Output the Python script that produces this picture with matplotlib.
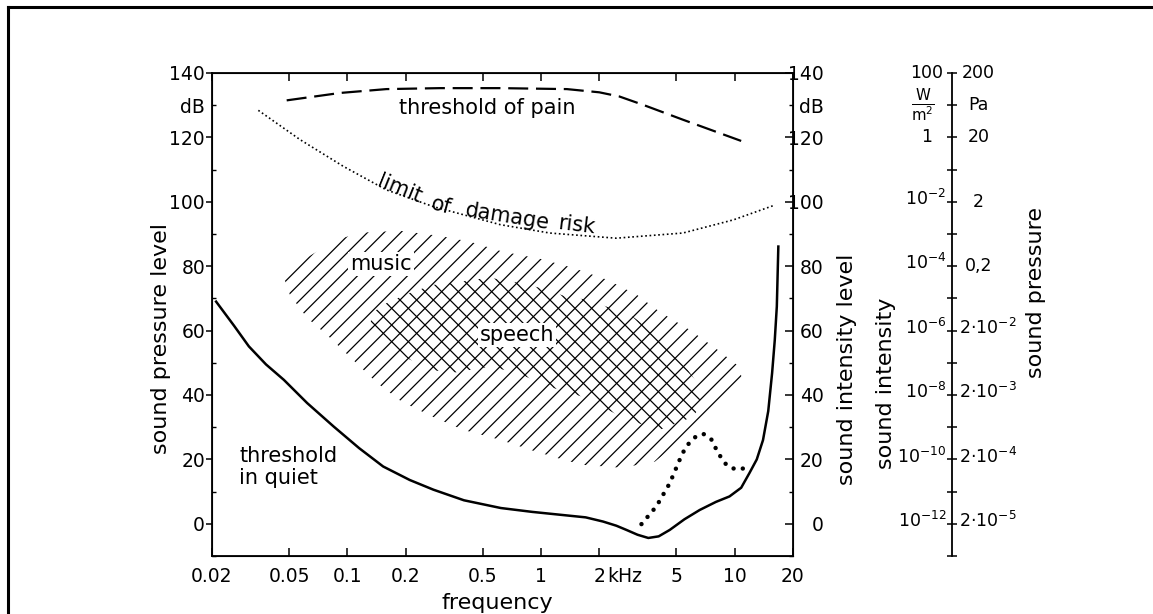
import matplotlib
matplotlib.use('Agg')
import matplotlib.pyplot as plt
from matplotlib.lines import Line2D
from matplotlib.ticker import FixedLocator, FuncFormatter, NullLocator

# --- data (frequency in kHz, level in dB) ---
freq_quiet = [0.021, 0.026, 0.031, 0.038, 0.047, 0.062, 0.085, 0.115, 0.153, 0.21, 0.278, 0.40,
              0.62, 0.90, 1.26, 1.70, 2.09, 2.45, 2.76, 3.15, 3.58, 4.05, 4.62, 5.5, 6.6, 8.0,
              9.4, 10.8, 11.9, 13.0, 14.0, 14.9, 15.6, 16.1, 16.5, 16.8]
db_quiet = [69.0, 61.5, 55.1, 49.5, 44.7, 37.5, 30.2, 23.5, 17.8, 13.6, 10.6, 7.3,
            4.9, 3.7, 2.8, 2.0, 0.7, -0.6, -1.9, -3.4, -4.4, -3.9, -1.9, 1.4, 4.3, 6.8,
            8.5, 11.2, 15.7, 20.0, 26.0, 35.0, 46.8, 57.0, 67.5, 86.1]

freq_pain = [0.0486, 0.0916, 0.159, 0.30, 0.616, 1.36, 2.0, 2.54, 3.37, 5.4, 10.8]
db_pain = [131.5, 133.8, 135.0, 135.3, 135.3, 135.0, 134.0, 132.7, 130.1, 125.5, 118.9]

freq_damage = [0.0347, 0.057, 0.0954, 0.159, 0.278, 0.616, 1.11, 2.44, 5.4, 9.86, 15.8]
db_damage = [128.4, 119.3, 111.0, 103.7, 98.5, 92.9, 90.3, 88.7, 90.3, 94.4, 98.8]

freq_dots = [3.3, 3.94, 4.62, 5.2, 5.6, 6.3, 6.9, 7.6, 8.2, 9.06, 10.0, 11.3]
db_dots = [-0.1, 5.4, 12.6, 19.9, 24.0, 27.1, 27.9, 26.1, 22.0, 18.3, 17.0, 17.2]

music_f = [0.0465, 0.0569, 0.0722, 0.0884, 0.116, 0.187, 0.301, 0.430, 0.636, 0.987, 1.46,
           2.19, 3.13, 4.11, 5.87, 7.90, 10.4, 10.9, 10.0, 8.59, 6.61, 5.21, 3.87, 2.62,
           1.65, 1.30, 0.876, 0.614, 0.395, 0.277, 0.191, 0.142, 0.107, 0.0813, 0.0619, 0.0505]
music_db = [77.3, 81.4, 85.1, 88.2, 90.4, 91.0, 89.4, 87.6, 84.5, 82.3, 79.5,
            75.8, 71.1, 65.8, 60.2, 54.7, 49.1, 45.3, 41.0, 36.0, 30.7, 25.5, 19.3, 17.4,
            18.3, 19.9, 23.0, 26.1, 29.2, 33.2, 37.9, 43.8, 50.9, 57.8, 64.0, 71.1]

speech_f = [0.131, 0.134, 0.160, 0.210, 0.277, 0.351, 0.445, 0.545, 0.716, 0.987, 1.36, 1.73,
            2.19, 2.98, 3.52, 4.47, 5.40, 6.61, 6.61, 6.08, 4.11, 2.78, 1.65, 1.11, 0.751,
            0.545, 0.351, 0.267, 0.180, 0.147]
speech_db = [61.2, 65.5, 68.6, 71.7, 74.2, 74.8, 75.8, 76.4, 75.2, 73.3, 70.5, 69.6,
             67.4, 64.3, 61.2, 55.0, 50.0, 42.5, 36.3, 33.2, 29.2, 32.3, 39.4, 42.5, 46.9,
             48.8, 46.9, 47.8, 53.1, 57.1]

x_ticks = [0.02, 0.05, 0.1, 0.2, 0.5, 1, 2, 5, 10, 20]
x_labels = ['0.02', '0.05', '0.1', '0.2', '0.5', '1', '2', '5', '10', '20']
y_major = [0, 20, 40, 60, 80, 100, 120, 140]
y_minor = [-10, 10, 30, 50, 70, 90, 110, 130]

intensity_labels = ['100', '1', '$10^{-2}$', '$10^{-4}$', '$10^{-6}$', '$10^{-8}$',
                    '$10^{-10}$', '$10^{-12}$']
pressure_labels = ['200', '20', '2', '0,2', '2·10$^{-2}$', '2·10$^{-3}$', '2·10$^{-4}$',
                   '2·10$^{-5}$']
scale_db = [140, 120, 100, 80, 60, 40, 20, 0]

plt.rcParams['font.family'] = ['DejaVu Sans']
plt.rcParams['mathtext.fontset'] = 'dejavusans'
plt.rcParams['mathtext.default'] = 'regular'
plt.rcParams['hatch.linewidth'] = 0.9

W, H = 1153, 614
TICK_FS = 13.5
SCALE_FS = 12.5
TEXT_FS = 15
LABEL_FS = 16

fig = plt.figure(figsize=(W / 100, H / 100), dpi=100)
ax = fig.add_axes([212 / W, 1 - 556 / H, (793 - 212) / W, (556 - 73) / H])
ax.set_xscale('log')
ax.set_xlim(0.02, 20)
ax.set_ylim(-10, 140)

# hatched regions: music (single hatch), speech (cross hatch on top of music)
ax.fill(music_f, music_db, fill=False, hatch='//', edgecolor='k', linewidth=0)
ax.fill(speech_f, speech_db, fill=False, hatch='\\\\', edgecolor='k', linewidth=0)

# curves
ax.plot(freq_quiet, db_quiet, color='k', lw=1.8)
ax.plot(freq_pain, db_pain, color='k', lw=1.6, ls=(0, (9, 3.5)))
ax.plot(freq_damage, db_damage, color='k', lw=1.2, ls=(0, (1, 1.6)))
ax.plot(freq_dots, db_dots, color='k', lw=3.2, ls=(0, (0.01, 2.1)),
        dash_capstyle='round')

# annotations
white = dict(facecolor='white', edgecolor='none', pad=1.5)
ax.text(0.53, 129.2, 'threshold of pain', fontsize=TEXT_FS, ha='center', va='center')
ax.text(0.149, 80.7, 'music', fontsize=TEXT_FS, ha='center', va='center', bbox=white)
ax.text(0.751, 58.7, 'speech', fontsize=TEXT_FS, ha='center', va='center', bbox=white)
ax.text(0.0276, 17.7, 'threshold\nin quiet', fontsize=TEXT_FS, ha='left', va='center',
        linespacing=1.15)
for word, f, db, rot in [('limit', 0.187, 104.0, -22), ('of', 0.305, 98.9, -15),
                         ('damage', 0.668, 95.3, -9), ('risk', 1.53, 92.6, -7)]:
    ax.text(f, db, word, fontsize=TEXT_FS, ha='center', va='center', rotation=rot)

# x axis
ax.set_xticks(x_ticks)
ax.set_xticklabels(x_labels)
ax.xaxis.set_minor_locator(NullLocator())
ax.tick_params(axis='x', which='major', direction='in', length=6, width=1.1, top=True,
               pad=8, labelsize=TICK_FS)
ax.annotate('kHz', xy=(2, 0), xycoords=('data', 'axes fraction'), xytext=(6, -8),
            textcoords='offset points', ha='left', va='top', fontsize=TICK_FS)

# left y axis
db_fmt = FuncFormatter(lambda v, p: 'dB' if abs(v - 130) < 1e-6 else '')
ax.set_yticks(y_major)
ax.yaxis.set_minor_locator(FixedLocator(y_minor))
ax.yaxis.set_minor_formatter(db_fmt)
ax.tick_params(axis='y', which='major', direction='out', length=4, width=1.1, pad=1,
               labelsize=TICK_FS)
ax.tick_params(axis='y', which='minor', direction='in', length=3, width=1, pad=5,
               labelsize=TICK_FS)
for sp in ax.spines.values():
    sp.set_linewidth(1.3)

# right y axis (sound intensity level)
ax2 = ax.twinx()
ax2.set_ylim(-10, 140)
ax2.set_yticks(y_major)
ax2.yaxis.set_minor_locator(FixedLocator(y_minor))
ax2.yaxis.set_minor_formatter(db_fmt)
ax2.tick_params(axis='y', which='major', direction='in', length=6, width=1.1, pad=22,
                labelsize=TICK_FS)
ax2.tick_params(axis='y', which='minor', direction='in', length=3, width=1, pad=22,
                labelsize=TICK_FS)
for lab in ax2.get_yticklabels(which='both'):
    lab.set_horizontalalignment('right')

# third scale: sound intensity / sound pressure
ax3 = fig.add_axes([952 / W, 1 - 556 / H, 0.0005, (556 - 73) / H])
ax3.set_ylim(-10, 140)
ax3.patch.set_visible(False)
for side in ['right', 'top', 'bottom']:
    ax3.spines[side].set_visible(False)
ax3.spines['left'].set_linewidth(1.3)
ax3.set_xticks([])
ax3.set_yticks(list(range(-10, 141, 10)))
ax3.tick_params(axis='y', direction='inout', length=7, width=1.1, labelleft=False)

for i, (db, lab) in enumerate(zip(scale_db, intensity_labels)):
    if i < 2:
        ax3.annotate(lab, xy=(0, db), xycoords=('axes fraction', 'data'), xytext=(-18, 0),
                     textcoords='offset points', ha='center', va='center', fontsize=SCALE_FS)
    else:
        ax3.annotate(lab, xy=(0, db), xycoords=('axes fraction', 'data'), xytext=(-4, 2),
                     textcoords='offset points', ha='right', va='center', fontsize=SCALE_FS)
for i, (db, lab) in enumerate(zip(scale_db, pressure_labels)):
    if i < 4:
        ax3.annotate(lab, xy=(0, db), xycoords=('axes fraction', 'data'), xytext=(19, 0),
                     textcoords='offset points', ha='center', va='center', fontsize=SCALE_FS)
    else:
        ax3.annotate(lab, xy=(0, db), xycoords=('axes fraction', 'data'), xytext=(5, 2),
                     textcoords='offset points', ha='left', va='center', fontsize=SCALE_FS)
ax3.annotate(r'$\frac{W}{m^2}$', xy=(0, 130), xycoords=('axes fraction', 'data'),
             xytext=(-21, 0), textcoords='offset points', ha='center', va='center',
             fontsize=SCALE_FS + 3)
ax3.annotate('Pa', xy=(0, 130), xycoords=('axes fraction', 'data'), xytext=(19, 0),
             textcoords='offset points', ha='center', va='center', fontsize=SCALE_FS)

# axis titles
fig.text(497 / W, 1 - 603 / H, 'frequency', fontsize=LABEL_FS, ha='center', va='center')
fig.text(161 / W, 1 - 338 / H, 'sound pressure level', fontsize=LABEL_FS, rotation=90,
         ha='center', va='center')
fig.text(847 / W, 1 - 369 / H, 'sound intensity level', fontsize=LABEL_FS, rotation=90,
         ha='center', va='center')
fig.text(886 / W, 1 - 383 / H, 'sound intensity', fontsize=LABEL_FS, rotation=90,
         ha='center', va='center')
fig.text(1036 / W, 1 - 292 / H, 'sound pressure', fontsize=LABEL_FS, rotation=90,
         ha='center', va='center')

# page frame
fig.add_artist(Line2D([7.5 / W, 7.5 / W], [0, 1 - 6.5 / H], transform=fig.transFigure,
                      color='k', lw=2.2))
fig.add_artist(Line2D([7.5 / W, 1], [1 - 6.5 / H, 1 - 6.5 / H], transform=fig.transFigure,
                      color='k', lw=2.2))

fig.savefig('out.png', dpi=100)
